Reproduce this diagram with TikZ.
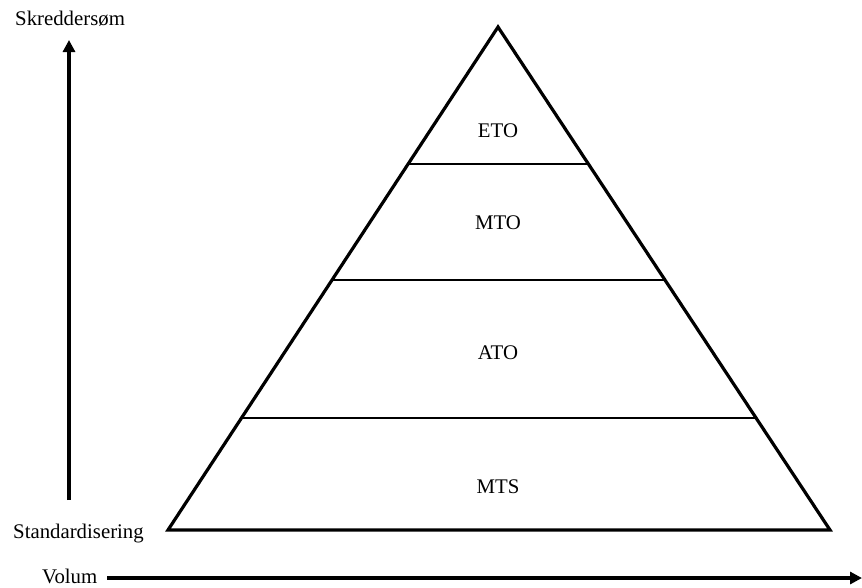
\documentclass[tikz,border=0pt]{standalone}
\usepackage{fontspec}
\setmainfont{Liberation Serif}
\usetikzlibrary{calc,arrows.meta}
\begin{document}
\begin{tikzpicture}[x=1pt,y=-1pt,
  lbl/.style={inner sep=0pt,font=\fontsize{20.8}{24}\selectfont},
  tri/.style={line width=3.2pt,line join=miter},
  band/.style={line width=1.7pt},
  axis/.style={line width=3.2pt,-{Triangle[length=12pt,width=12pt]}}]
  \useasboundingbox (0,0) rectangle (862,587);
  % pyramid corners
  \coordinate (apex) at (498,27);
  \coordinate (bl) at (168,530);
  \coordinate (br) at (830,530);
  \draw[tri] (apex) -- (bl) -- (br) -- cycle;
  % dividing lines between levels
  \draw[band] ($(apex)!0.2724!(bl)$) -- ($(apex)!0.2724!(br)$);
  \draw[band] ($(apex)!0.503!(bl)$) -- ($(apex)!0.503!(br)$);
  \draw[band] ($(apex)!0.7773!(bl)$) -- ($(apex)!0.7773!(br)$);
  % level labels
  \node[lbl,anchor=base] (eto) at (498,137) {ETO};
  \node[lbl,anchor=base] (mto) at (498,229) {MTO};
  \node[lbl,anchor=base] (ato) at (498,359) {ATO};
  \node[lbl,anchor=base] (mts) at (498,493) {MTS};
  % axes
  \node[lbl,anchor=base west] (top) at (15,25) {Skreddersøm};
  \node[lbl,anchor=base west] (bottom) at (13,538) {Standardisering};
  \node[lbl,anchor=base west] (vol) at (42,583) {Volum};
  \coordinate (vstart) at (69,500);
  \coordinate (vend) at (69,40);
  \coordinate (hstart) at (107,578);
  \coordinate (hend) at (862,578);
  \draw[axis] (vstart) -- (vend);
  \draw[axis] (hstart) -- (hend);
\end{tikzpicture}
\end{document}
